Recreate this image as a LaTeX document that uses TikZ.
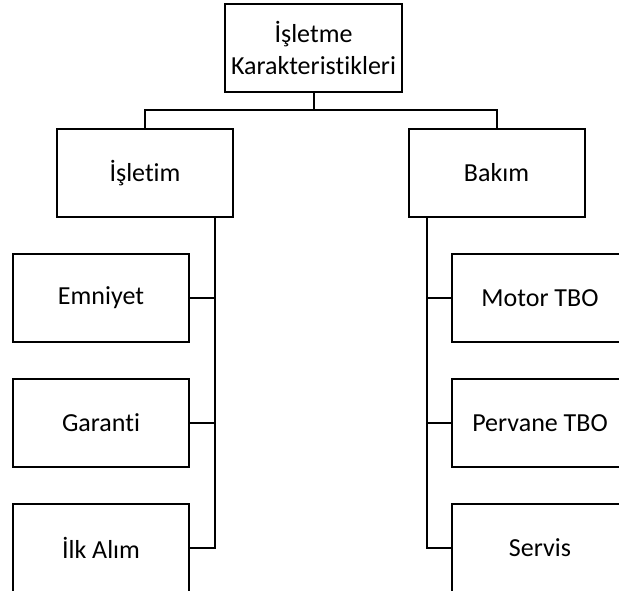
\documentclass[tikz,border=0pt]{standalone}
\usepackage{fontspec}
\setmainfont{Carlito}[Ligatures={NoCommon}]
\begin{document}
\begin{tikzpicture}[x=1pt,y=-1pt,
  box/.style={draw=black,line width=2pt,minimum width=176pt,minimum height=88pt,inner sep=0pt,align=center,font=\fontsize{26}{32}\selectfont},
  conn/.style={draw=black,line width=2pt}]
\useasboundingbox (0,0) rectangle (619,591);
\clip (0,0) rectangle (619,591);
\node[box,minimum width=177pt] (top) at (313.5,48) {İşletme\\Karakteristikleri};
\node[box] (isl) at (145,173) {İşletim};
\node[box] (bak) at (496.5,173) {Bakım};
\node[box] (emn) at (101,298) {Emniyet};
\node[box] (gar) at (101,423) {Garanti};
\node[box] (ilk) at (101,548) {İlk Alım};
\node[box] (mot) at (540,298) {Motor TBO};
\node[box] (per) at (540,423) {Pervane TBO};
\node[box] (ser) at (540,548) {Servis};
\coordinate (split) at (313.5,110);
\coordinate (lbus) at (215,217);
\coordinate (rbus) at (427,217);
\draw[conn] (top.south) -- (split) -| (isl.north);
\draw[conn] (split) -| (bak.north);
\draw[conn] (lbus) |- (ilk.east);
\draw[conn] (lbus |- emn.east) -- (emn.east);
\draw[conn] (lbus |- gar.east) -- (gar.east);
\draw[conn] (rbus) |- (ser.west);
\draw[conn] (rbus |- mot.west) -- (mot.west);
\draw[conn] (rbus |- per.west) -- (per.west);
\end{tikzpicture}
\end{document}
